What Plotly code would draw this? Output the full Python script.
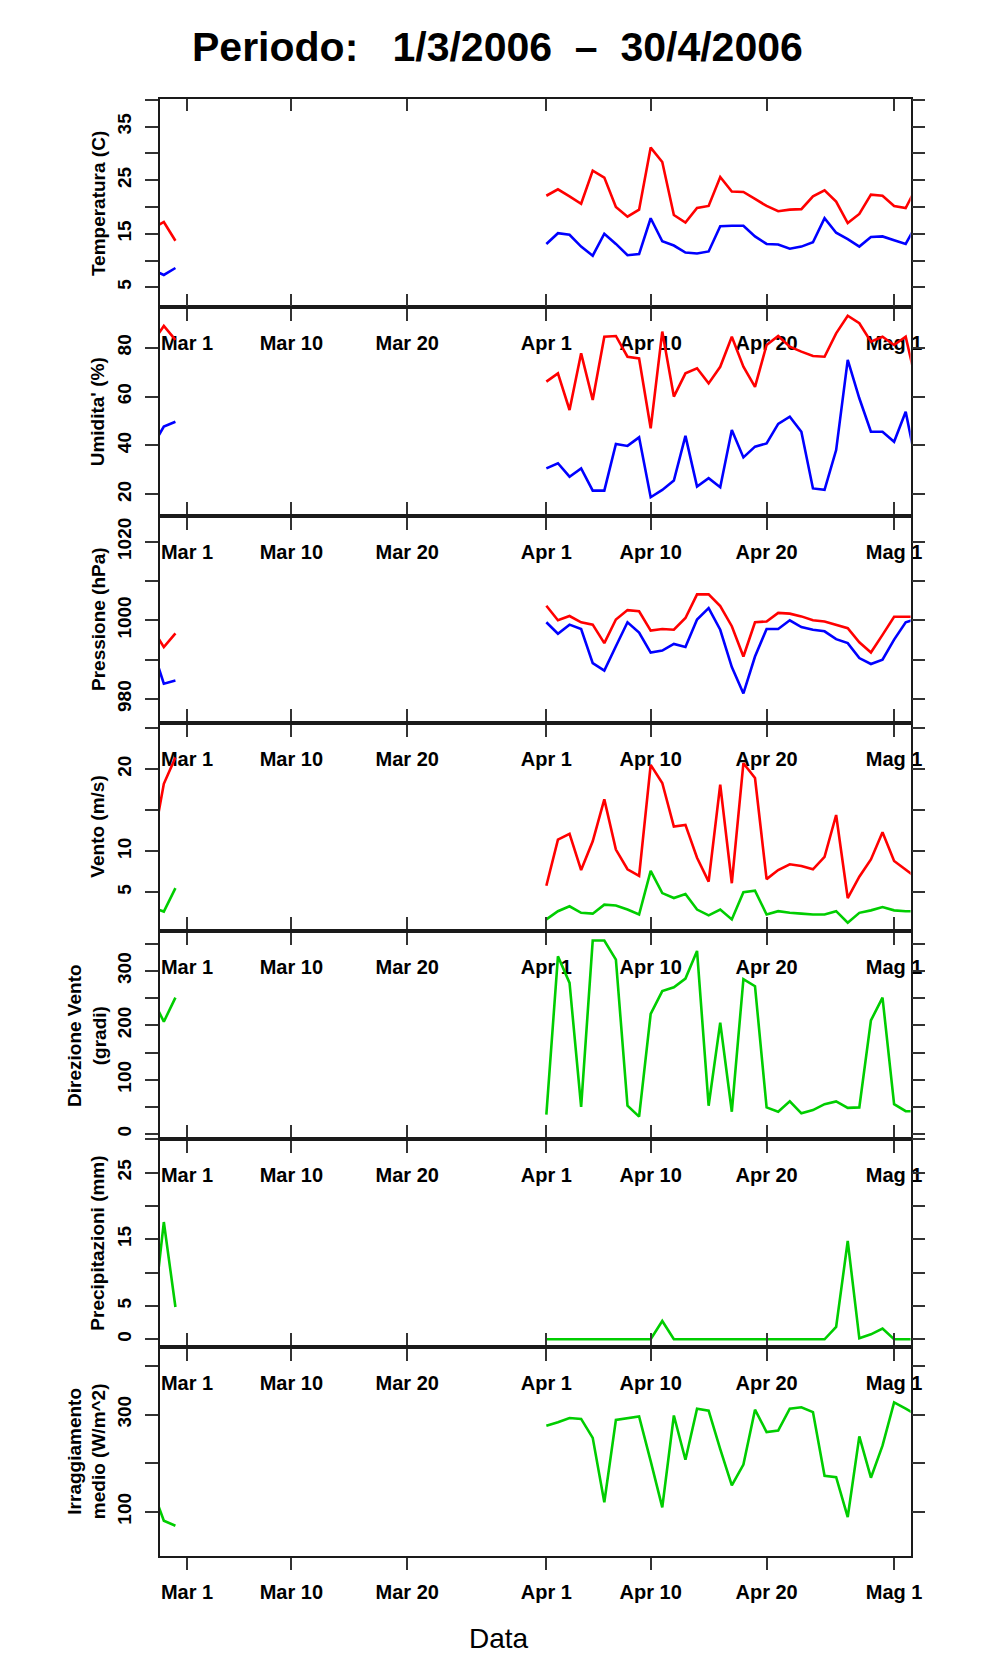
import pandas as pd
import plotly.graph_objects as go

# colours like R's "red", "blue", "green3"
RED = "#FF0000"
BLUE = "#0000FF"
GREEN = "#00CD00"
FONT = "Liberation Sans"

W, H = 996, 1680

# dates (the March block is missing in the data)
dates_feb = ["2006-02-26", "2006-02-27", "2006-02-28"]
dates_apr = [d.strftime("%Y-%m-%d") for d in pd.date_range("2006-04-01", "2006-05-03")]

tick_dates = ["2006-03-01", "2006-03-10", "2006-03-20", "2006-04-01",
              "2006-04-10", "2006-04-20", "2006-05-01"]
tick_labels = ["Mar 1", "Mar 10", "Mar 20", "Apr 1", "Apr 10", "Apr 20", "Mag 1"]

# Temperatura (C)
tmax_feb = [16.0, 17.2, 13.7]
tmax_apr = [22.1, 23.3, 22.0, 20.6, 26.8, 25.5, 20.0, 18.2, 19.5, 31.1, 28.4, 18.5, 17.1, 19.8, 20.2, 25.6,
            22.9, 22.8, 21.5, 20.2, 19.2, 19.5, 19.6, 22.0, 23.1, 21.0, 17.0, 18.7, 22.3, 22.1, 20.2, 19.8, 24.0]
tmin_feb = [8.3, 7.3, 8.6]
tmin_apr = [13.1, 15.1, 14.8, 12.6, 10.9, 15.0, 13.1, 11.0, 11.2, 17.9, 13.6, 12.8, 11.5, 11.3, 11.7, 16.4,
            16.5, 16.5, 14.5, 13.1, 13.0, 12.2, 12.6, 13.4, 17.9, 15.2, 14.0, 12.6, 14.4, 14.5, 13.8, 13.1, 17.0]

# Umidita' (%)
umax_feb = [82.0, 88.9, 83.2]
umax_apr = [66.1, 69.5, 54.5, 77.7, 58.6, 84.5, 84.8, 76.3, 75.6, 47.0, 86.6, 60.0, 69.5, 71.6, 65.4, 72.2,
            84.5, 72.2, 64.0, 81.1, 84.8, 80.4, 78.4, 76.6, 76.3, 85.9, 93.1, 90.0, 82.5, 84.5, 81.1, 84.5, 64.0]
umin_feb = [39.6, 47.7, 49.7]
umin_apr = [30.6, 32.7, 27.2, 30.6, 21.5, 21.5, 40.6, 39.8, 43.3, 18.8, 21.8, 25.6, 43.9, 23.2, 26.6, 22.9,
            46.3, 35.1, 39.5, 40.8, 48.8, 51.8, 45.6, 22.4, 21.8, 38.1, 75.0, 59.3, 45.6, 45.6, 41.5, 53.8, 30.4]

# Pressione (hPa)
pmax_feb = [998.0, 993.2, 996.7]
pmax_apr = [1003.7, 1000.0, 1001.1, 999.5, 998.9, 994.2, 1000.2, 1002.6, 1002.3, 997.4, 997.8, 997.6, 1000.6,
            1006.6, 1006.6, 1003.6, 998.5, 990.8, 999.5, 999.7, 1001.9, 1001.7, 1001.0, 1000.0, 999.7, 998.9,
            998.0, 994.4, 991.8, 996.3, 1000.9, 1000.9, 1000.9]
pmin_feb = [993.0, 983.9, 984.7]
pmin_apr = [999.5, 996.6, 998.9, 997.8, 989.1, 987.2, 993.4, 999.5, 996.9, 991.8, 992.3, 994.0, 993.2,
            1000.2, 1003.1, 997.6, 988.1, 981.4, 990.8, 997.8, 997.8, 1000.0, 998.3, 997.6, 997.2, 995.2,
            994.2, 990.4, 988.9, 990.0, 995.1, 999.5, 1000.4]

# Vento (m/s)
vmax_feb = [10.5, 18.2, 21.4]
vmax_apr = [5.8, 11.4, 12.1, 7.7, 11.2, 16.3, 10.2, 7.8, 7.0, 20.5, 18.3, 13.0, 13.2, 9.2, 6.3, 18.1, 6.1,
            20.7, 18.9, 6.6, 7.7, 8.4, 8.2, 7.8, 9.3, 14.4, 4.3, 6.9, 9.0, 12.3, 8.8, 7.8, 6.7]
vmed_feb = [3.15, 2.65, 5.5]
vmed_apr = [1.7, 2.7, 3.3, 2.5, 2.4, 3.5, 3.4, 2.9, 2.3, 7.6, 4.9, 4.3, 4.8, 2.9, 2.2, 2.9, 1.7, 5.0, 5.2,
            2.3, 2.7, 2.5, 2.4, 2.3, 2.3, 2.7, 1.3, 2.5, 2.8, 3.2, 2.8, 2.7, 2.7]

# Direzione vento (gradi)
dir_feb = [250, 206.7, 250.9]
dir_apr = [35.5, 327, 278, 50, 356, 356, 321, 52, 32, 221, 263, 270, 286, 337, 52, 205, 41, 285, 272, 49,
           41, 60, 38, 44, 55, 60, 48, 49, 209, 251, 55, 42, 42]

# Precipitazioni (mm)
prec_feb = [2.1, 17.6, 4.85]
prec_apr = [0, 0, 0, 0, 0, 0, 0, 0, 0, 0, 2.75, 0, 0, 0, 0, 0, 0, 0, 0, 0, 0, 0, 0, 0, 0,
            1.85, 14.75, 0.15, 0.75, 1.6, 0, 0, 0]

# Irraggiamento medio (W/m^2)
irr_feb = [146.9, 81.4, 71.0]
irr_apr = [277, 284, 293, 291, 252, 119.5, 289, 293, 296, 204, 109, 298, 207, 312, 308, 229, 154, 197,
           310, 264, 267, 312, 315, 305, 174, 171, 89, 255, 170, 236, 325, 312, 298]

panels = [
    dict(title="Temperatura (C)", series=[(tmax_feb, tmax_apr, RED), (tmin_feb, tmin_apr, BLUE)],
         yrange=[1.26, 40.12], yticks=[5, 10, 15, 20, 25, 30, 35, 40], ylabels=["5", "15", "25", "35"]),
    dict(title="Umidita' (%)", series=[(umax_feb, umax_apr, RED), (umin_feb, umin_apr, BLUE)],
         yrange=[11.24, 96.54], yticks=[20, 40, 60, 80], ylabels=["20", "40", "60", "80"]),
    dict(title="Pressione (hPa)", series=[(pmax_feb, pmax_apr, RED), (pmin_feb, pmin_apr, BLUE)],
         yrange=[973.97, 1026.6], yticks=[980, 990, 1000, 1010, 1020], ylabels=["980", "1000", "1020"]),
    dict(title="Vento (m/s)", series=[(vmax_feb, vmax_apr, RED), (vmed_feb, vmed_apr, GREEN)],
         yrange=[0.29, 25.63], yticks=[5, 10, 15, 20, 25], ylabels=["5", "10", "20"]),
    dict(title="Direzione Vento<br>(gradi)", series=[(dir_feb, dir_apr, GREEN)],
         yrange=[-9.2, 373.6], yticks=[0, 50, 100, 150, 200, 250, 300, 350], ylabels=["0", "100", "200", "300"]),
    dict(title="Precipitazioni (mm)", series=[(prec_feb, prec_apr, GREEN)],
         yrange=[-1.11, 30.06], yticks=[0, 5, 10, 15, 20, 25, 30], ylabels=["0", "5", "15", "25"]),
    dict(title="Irraggiamento<br>medio (W/m^2)", series=[(irr_feb, irr_apr, GREEN)],
         yrange=[9.4, 439.7], yticks=[100, 200, 300, 400], ylabels=["100", "300"]),
]

# panel edges in pixels (top of first ... bottom of last)
edges = [99.3, 307.3, 515.7, 722.7, 931.0, 1139.0, 1346.7, 1555.7]
x_left, x_right = 161.7, 921.7
x_range = ["2006-02-26 15:33", "2006-05-02 10:09"]

fig = go.Figure()
layout = dict(width=W, height=H, margin=dict(l=0, r=0, t=0, b=0), autosize=False,
              plot_bgcolor="white", paper_bgcolor="white", showlegend=False,
              font=dict(family=FONT, color="black"))

axis_line = dict(showline=True, linecolor="#1a1a1a", linewidth=1.6, showgrid=False, zeroline=False,
                 tickcolor="#333333", tickwidth=2)

annotations = []
for i, p in enumerate(panels, start=1):
    xn = "x" if i == 1 else f"x{i}"
    yn = "y" if i == 1 else f"y{i}"
    for feb, apr, colour in p["series"]:
        fig.add_trace(go.Scatter(x=dates_feb + [None] + dates_apr, y=feb + [None] + apr,
                                 mode="lines", line=dict(color=colour, width=2.6),
                                 xaxis=xn, yaxis=yn, hoverinfo="skip"))

    ylab = [str(v) if str(v) in p["ylabels"] else "" for v in p["yticks"]]
    layout["xaxis" if i == 1 else f"xaxis{i}"] = dict(
        axis_line, domain=[x_left / W, x_right / W], anchor=yn, type="date", range=x_range,
        tickmode="array", tickvals=tick_dates, ticktext=tick_labels, ticks="outside", ticklen=12,
        mirror=True if i == 1 else "ticks", tickangle=0, ticklabelstandoff=5,
        tickfont=dict(family=FONT, size=20, color="black", weight="bold"))
    layout["yaxis" if i == 1 else f"yaxis{i}"] = dict(
        axis_line, domain=[1 - edges[i] / H, 1 - edges[i - 1] / H], anchor=xn, range=p["yrange"],
        tickmode="array", tickvals=p["yticks"], ticktext=ylab, ticks="outside", ticklen=13,
        mirror="ticks", tickangle=-90, ticklabelstandoff=6,
        tickfont=dict(family=FONT, size=19, color="black", weight="bold"))

    yc = 1 - (edges[i - 1] + edges[i]) / 2 / H
    xc = 99 if "<br>" not in p["title"] else 88
    annotations.append(dict(text=f"<b>{p['title']}</b>", textangle=-90, x=xc / W, y=yc,
                            xref="paper", yref="paper", showarrow=False, xanchor="center", yanchor="middle",
                            font=dict(family=FONT, size=19, color="black")))

# inward ticks on top of the first panel
layout["xaxis8"] = dict(domain=[x_left / W, x_right / W], anchor="y", overlaying="x", side="top",
                        type="date", range=x_range, tickmode="array", tickvals=tick_dates,
                        ticks="inside", ticklen=12, tickcolor="#333333", tickwidth=2,
                        showticklabels=False, showline=False, showgrid=False, zeroline=False)
fig.add_trace(go.Scatter(x=[None], y=[None], xaxis="x8", yaxis="y", mode="lines", hoverinfo="skip"))

annotations.append(dict(text="<b>Periodo:\u00a0\u00a0\u00a01/3/2006\u00a0\u00a0\u2013\u00a0\u00a030/4/2006</b>",
                        x=504 / W, y=1 - 47 / H, xref="paper", yref="paper", showarrow=False,
                        xanchor="center", yanchor="middle", font=dict(family=FONT, size=41, color="black")))
annotations.append(dict(text="Data", x=505 / W, y=1 - 1638 / H, xref="paper", yref="paper",
                        showarrow=False, xanchor="center", yanchor="middle",
                        font=dict(family=FONT, size=28, color="black")))
layout["annotations"] = annotations

fig.update_layout(layout)
# the page has a default 8px body margin; drop it so the figure sits at the window origin
fig.write_html("out.html", config={"displayModeBar": False},
               post_script="document.body.style.margin='0px';")
